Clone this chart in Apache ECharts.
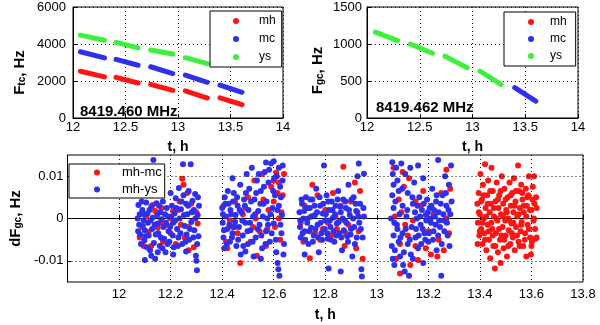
<!DOCTYPE html>
<html>
<head>
<meta charset="utf-8">
<script src="https://cdn.jsdelivr.net/npm/echarts@6/dist/echarts.min.js"></script>
<style>
  html, body { margin: 0; padding: 0; background: #fff; }
  #chart { width: 600px; height: 325px; }
</style>
</head>
<body>
<div id="chart"></div>
<script>
// top panels: each dash is [t start, t end, F start, F end] (t in h, F in Hz)
const tcMh = [[12.07, 12.30, 2530, 2220], [12.41, 12.62, 2200, 1890], [12.74, 12.95, 1815, 1490], [13.07, 13.28, 1470, 1080], [13.40, 13.61, 1090, 720]];
const tcMc = [[12.07, 12.30, 3580, 3250], [12.41, 12.62, 3170, 2850], [12.74, 12.95, 2770, 2400], [13.07, 13.28, 2320, 1930], [13.40, 13.61, 1780, 1390]];
const tcYs = [[12.07, 12.30, 4480, 4200], [12.41, 12.62, 4090, 3790], [12.74, 12.95, 3680, 3460], [13.07, 13.28, 3260, 2940]];

const gcYs = [[12.08, 12.29, 1160, 1045], [12.41, 12.62, 1000, 875], [12.74, 12.95, 835, 680], [13.07, 13.27, 635, 455]];
const gcMc = [[13.40, 13.60, 410, 228]];

const topTicksX = [12, 14, 0.5];
const tcTicksY = [0, 6000, 2000];
const gcTicksY = [0, 1500, 500];

// bottom panel: [t, dF in mHz]
const mhMc = [
  [12.08, -4.5], [12.09, -2.0], [12.105, 0.5], [12.115, -3.2], [12.125, -6.5], [12.14, 1.8], [12.15, -2.2], [12.165, 2.5],
  [12.17, -5.5], [12.185, -1.5], [12.2, -3.5], [12.21, 1.8], [12.22, -6.0], [12.235, 4.0], [12.245, 9.4], [12.25, 8.0],
  [12.255, -4.5], [12.265, 6.0], [12.27, -2.0], [12.28, 3.5], [12.29, -6.8], [12.3, 1.5], [12.305, -1.2], [12.24, -1.5], [12.13, 3.2],
  [12.405, 3.0], [12.415, -5.5], [12.43, -0.5], [12.45, 4.0], [12.46, -3.5], [12.47, -10.5], [12.48, 1.0], [12.5, 5.0],
  [12.51, -5.5], [12.525, 9.0], [12.53, 0.0], [12.545, -3.0], [12.555, 10.5], [12.56, 4.5], [12.57, -6.5], [12.58, 2.0],
  [12.59, 7.5], [12.6, 9.0], [12.605, -2.0], [12.61, 10.8], [12.615, 6.0], [12.62, 8.5], [12.625, -5.0], [12.63, 1.5],
  [12.64, 10.5], [12.535, -8.8], [12.42, -7.0],
  [12.705, -1.0], [12.72, 3.0], [12.74, -9.4], [12.745, 0.5], [12.76, -3.5], [12.77, 5.5], [12.78, -5.0], [12.8, 2.0],
  [12.82, -4.0], [12.83, 6.0], [12.845, -2.5], [12.86, 3.0], [12.87, 12.2], [12.875, -6.5], [12.89, -1.5], [12.9, 4.0],
  [12.915, 8.5], [12.92, -7.0], [12.93, -3.0], [12.935, 6.5], [12.945, -9.5], [12.81, -1.0], [12.75, 8.0],
  [13.065, 12.0], [13.07, 0.5], [13.075, -9.5], [13.085, 4.5], [13.09, -6.0], [13.1, 11.0], [13.105, 7.5], [13.11, -1.5],
  [13.12, -4.0], [13.125, 9.5], [13.13, -11.0], [13.14, -0.5], [13.15, -6.5], [13.16, -9.8], [13.17, 3.0], [13.18, 6.5],
  [13.2, -3.0], [13.21, -8.5], [13.22, 1.0], [13.235, -9.0], [13.25, 6.0], [13.26, -7.5], [13.27, 11.5], [13.28, -3.5],
  [13.285, 7.0], [13.09, -13.0],
  [13.39, 3.5], [13.392, -1.0], [13.395, 6.0], [13.398, -4.0], [13.40, 1.0], [13.402, 10.5], [13.405, -2.5], [13.408, 4.5],
  [13.41, -6.0], [13.412, 8.0], [13.415, 0.0], [13.418, -3.5], [13.42, 12.8], [13.422, 2.5], [13.425, -7.5], [13.428, 5.5],
  [13.43, -1.5], [13.432, 9.0], [13.435, -5.0], [13.438, 1.5], [13.44, -9.4], [13.442, 3.5], [13.445, 12.0], [13.448, -2.5],
  [13.45, 6.5], [13.452, -6.5], [13.455, 0.5], [13.458, -11.8], [13.46, 4.0], [13.462, -3.5], [13.465, 8.5], [13.468, -0.5],
  [13.47, -8.0], [13.472, 2.5], [13.475, 5.5], [13.478, -5.0], [13.48, -10.5], [13.482, 1.0], [13.485, 10.0], [13.488, -2.0],
  [13.49, 3.5], [13.492, -7.0], [13.495, 7.0], [13.498, -0.5], [13.50, -4.0], [13.502, 2.0], [13.505, -9.0], [13.508, 5.0],
  [13.51, 0.0], [13.512, -2.8], [13.515, 8.5], [13.518, -6.0], [13.52, 3.0], [13.522, -1.2], [13.525, 6.0], [13.528, -4.5],
  [13.53, 1.5], [13.532, 9.5], [13.535, -7.5], [13.538, 4.0], [13.54, -2.0], [13.545, 0.5], [13.548, 12.5], [13.55, -5.5],
  [13.552, 6.5], [13.555, 2.5], [13.558, -3.0], [13.56, 8.0], [13.562, -0.8], [13.565, 4.5], [13.568, -6.5], [13.57, 1.5],
  [13.575, -3.5], [13.578, 7.0], [13.58, -9.0], [13.582, 3.0], [13.585, -1.5], [13.588, 5.5], [13.59, 10.0], [13.595, -4.5],
  [13.598, -8.5], [13.60, 2.0], [13.602, -5.5], [13.605, 7.5], [13.608, -0.5], [13.61, 10.0], [13.612, 3.5], [13.615, -4.8],
  [13.618, 5.0], [13.62, -4.5]
];
const mhMcCore = [
  [12.095, -6.5], [12.16, -1.0], [12.2, 0.0], [12.23, 2.0], [12.27, -7.5],
  [12.44, -2.0], [12.49, 2.5], [12.52, -2.0], [12.575, -2.5], [12.6, 4.0], [12.62, 0.0], [12.635, 5.5],
  [12.715, -5.5], [12.79, -2.5], [12.84, 0.5], [12.88, -3.5], [12.925, 1.5],
  [13.095, 1.5], [13.15, 4.0], [13.19, -7.0], [13.24, -5.0], [13.27, 0.0],
  [13.391, -6.0], [13.396, 1.5], [13.40, -3.0], [13.404, 4.0], [13.41, -1.0], [13.414, 5.5], [13.42, -5.0], [13.424, 0.5],
  [13.43, 3.5], [13.434, -3.0], [13.44, 6.5], [13.444, -1.0], [13.45, -4.0], [13.454, 2.5], [13.46, -6.5], [13.464, 0.0],
  [13.47, 4.5], [13.474, -2.5], [13.48, 6.5], [13.484, -4.0], [13.49, 0.5], [13.494, -5.0], [13.50, 4.5], [13.504, 1.5],
  [13.51, -6.5], [13.514, -0.5], [13.52, 5.5], [13.524, -3.5], [13.53, -1.0], [13.534, 3.0], [13.54, 6.5], [13.544, -4.0],
  [13.55, 1.0], [13.554, -6.5], [13.56, -1.5], [13.564, 6.0], [13.57, 3.0], [13.574, -5.0], [13.58, 0.5], [13.584, 5.0],
  [13.59, -2.5], [13.594, 2.0], [13.60, -6.5], [13.604, 4.5], [13.61, 0.0], [13.614, -2.5], [13.62, 2.5]
];
const mhYs = [
  [12.075, 3.2], [12.08, 1.0], [12.078, -1.5], [12.082, -3.8], [12.085, -6.0], [12.09, 2.0], [12.095, -0.5], [12.10, -2.8],
  [12.098, -5.2], [12.105, 3.8], [12.11, 1.2], [12.112, -1.0], [12.115, -4.0], [12.12, -7.5], [12.125, 2.8], [12.13, 0.2],
  [12.128, -2.5], [12.135, -5.8], [12.14, -9.5], [12.133, 13.8], [12.145, 3.6], [12.15, -1.2], [12.152, -3.5], [12.158, -6.5],
  [12.16, 1.5], [12.165, -0.2], [12.17, 4.0], [12.172, -2.0], [12.175, -4.8], [12.18, -8.0], [12.185, 2.5], [12.19, 0.5],
  [12.192, -3.0], [12.195, -5.5], [12.2, 6.0], [12.205, 3.0], [12.21, -1.0], [12.212, -6.8], [12.215, 1.2], [12.22, 4.8],
  [12.225, -2.5], [12.23, -4.5], [12.232, 7.2], [12.235, 0.0], [12.24, 2.2], [12.245, -6.0], [12.248, 12.8], [12.25, 5.5],
  [12.255, -1.8], [12.26, 3.5], [12.262, -3.8], [12.265, 1.0], [12.27, 6.5], [12.272, -5.0], [12.278, 12.8], [12.28, -0.8],
  [12.285, 4.2], [12.29, 2.0], [12.292, -2.8], [12.295, 5.8], [12.298, -8.8], [12.30, -10.0], [12.302, -12.2], [12.305, 0.8],
  [12.31, 3.0], [12.308, -4.2], [12.125, -8.8], [12.10, -9.8],
  [12.40, 2.5], [12.402, -1.0], [12.405, -4.5], [12.408, -7.0], [12.41, 5.0], [12.415, 0.5], [12.42, -2.5], [12.425, 3.5],
  [12.43, -5.5], [12.435, 1.0], [12.44, -3.5], [12.445, 6.0], [12.45, -0.8], [12.455, -6.5], [12.46, 3.0], [12.465, -2.0],
  [12.47, 8.0], [12.472, -8.5], [12.475, 1.5], [12.48, -4.0], [12.485, 4.5], [12.49, -1.0], [12.495, 10.5], [12.5, -6.0],
  [12.502, 2.0], [12.505, 7.0], [12.51, -2.8], [12.515, 12.0], [12.52, 0.5], [12.522, -9.0], [12.525, 4.5], [12.53, -4.5],
  [12.535, 9.0], [12.54, 1.8], [12.545, -1.5], [12.55, 6.5], [12.555, -7.0], [12.56, 3.5], [12.565, 11.0], [12.57, -3.0],
  [12.575, 0.0], [12.58, 8.5], [12.585, -5.5], [12.59, 13.0], [12.595, 2.5], [12.6, -1.2], [12.605, 5.5], [12.61, -8.0],
  [12.612, 10.0], [12.615, -10.5], [12.618, -12.0], [12.62, 3.0], [12.622, -13.5], [12.625, 7.5], [12.63, -3.5], [12.632, 0.8],
  [12.635, 12.5], [12.64, -6.0], [12.55, -9.5], [12.49, -7.8], [12.57, 13.2], [12.44, 9.5],
  [12.70, 1.5], [12.702, -2.0], [12.705, -4.5], [12.71, 3.5], [12.715, 0.0], [12.72, -3.0], [12.725, 5.0], [12.73, -1.0],
  [12.735, -6.0], [12.74, 2.5], [12.745, -2.2], [12.75, 4.5], [12.755, -4.0], [12.76, 0.8], [12.765, 7.0], [12.77, -1.5],
  [12.775, -8.0], [12.78, 3.0], [12.785, -3.5], [12.79, 1.2], [12.795, 12.5], [12.8, -0.5], [12.805, 5.5], [12.81, -4.8],
  [12.813, -11.8], [12.815, 2.0], [12.82, -2.0], [12.825, 4.0], [12.83, 0.2], [12.835, -5.5], [12.84, 3.0], [12.845, -1.2],
  [12.85, 6.5], [12.855, -3.5], [12.86, 1.5], [12.865, -7.5], [12.87, 4.5], [12.875, -0.5], [12.88, 2.5], [12.885, -4.2],
  [12.89, 8.0], [12.895, 0.8], [12.9, -2.5], [12.905, -9.0], [12.91, 5.0], [12.915, -6.0], [12.92, 1.8], [12.925, 10.0],
  [12.93, 13.0], [12.932, -1.0], [12.935, 3.5], [12.94, -12.0], [12.942, -13.7], [12.945, -4.5], [12.95, 10.6], [12.95, 0.5],
  [12.72, -8.5], [12.86, -12.5],
  [13.06, 13.3], [13.062, 10.5], [13.065, 8.0], [13.06, 5.5], [13.065, 2.5], [13.068, -1.0], [13.065, -4.0], [13.07, -7.5],
  [13.068, -11.0], [13.075, 12.0], [13.08, 9.0], [13.085, 6.5], [13.08, -2.5], [13.085, -5.5], [13.09, -9.0], [13.095, 13.0],
  [13.1, 3.0], [13.1, -3.5], [13.105, -8.0], [13.108, -12.5], [13.11, 10.5], [13.115, 0.5], [13.12, -6.0], [13.12, 6.0],
  [13.125, -13.5], [13.13, 12.0], [13.135, -2.0], [13.14, -9.5], [13.14, 3.5], [13.145, 8.5], [13.15, -4.5], [13.155, 0.0],
  [13.16, 12.5], [13.16, -7.0], [13.165, 5.0], [13.17, -1.5], [13.175, 2.0], [13.18, -10.5], [13.18, 9.5], [13.185, -3.5],
  [13.19, 0.8], [13.195, 4.5], [13.2, -5.5], [13.205, 2.5], [13.21, -1.0], [13.215, 7.0], [13.22, -3.0], [13.225, 0.5],
  [13.23, 4.0], [13.232, -7.5], [13.238, 13.8], [13.24, 1.5], [13.245, -2.0], [13.25, -13.5], [13.255, 5.5], [13.26, -0.5],
  [13.265, 10.0], [13.27, 3.0], [13.275, -4.0], [13.28, 8.0], [13.285, 1.0], [13.288, 12.5]
];
const mhYsCore = [
  [12.072, 0.0], [12.074, -3.0], [12.088, 4.0], [12.092, -1.8], [12.096, 1.0], [12.102, -4.2], [12.108, -6.8], [12.118, 2.0],
  [12.122, -0.5], [12.138, -1.5], [12.142, -3.8], [12.148, 0.8], [12.155, 3.0], [12.162, -4.5], [12.168, -7.0], [12.178, 1.0],
  [12.182, -1.0], [12.188, -6.0], [12.198, -2.0], [12.202, 0.5], [12.208, -4.0], [12.218, -0.5], [12.222, 2.5], [12.228, -6.5],
  [12.238, -3.5], [12.242, 4.0], [12.252, 0.8], [12.258, -5.5], [12.268, 3.0], [12.275, -2.5], [12.282, 1.5], [12.288, -4.5],
  [12.296, 0.0], [12.303, -6.0], [12.306, 5.0], [12.15, -8.0], [12.21, -8.5], [12.26, -7.8],
  [12.403, 1.0], [12.407, -2.8], [12.412, 3.5], [12.418, -6.0], [12.422, 6.5], [12.428, -1.5], [12.432, 2.0], [12.438, -4.5],
  [12.442, 4.0], [12.448, -2.0], [12.452, 0.8], [12.458, 5.0], [12.462, -5.0], [12.468, 2.0], [12.478, -0.5], [12.482, -6.5],
  [12.488, 3.0], [12.492, 6.0], [12.498, -3.0], [12.508, -1.0], [12.512, 4.0], [12.518, -5.5], [12.528, 1.0], [12.532, 6.0],
  [12.538, -2.5], [12.542, 10.5], [12.548, 3.5], [12.552, -4.0], [12.558, 0.5], [12.562, 7.5], [12.568, -6.0], [12.572, 4.0],
  [12.578, -1.5], [12.582, 11.5], [12.588, 1.0], [12.592, -3.5], [12.598, 6.5], [12.602, 9.5], [12.608, -5.0], [12.614, 2.0],
  [12.62, 12.0], [12.626, -1.5], [12.628, 5.0], [12.634, 9.0], [12.638, -8.5], [12.60, 13.5],
  [12.703, -0.5], [12.708, 4.5], [12.712, -3.5], [12.718, 1.8], [12.722, -5.0], [12.728, 2.5], [12.732, 0.0], [12.738, -3.0],
  [12.742, 4.5], [12.748, 0.5], [12.752, -5.5], [12.758, 3.0], [12.762, -2.5], [12.768, 1.5], [12.772, -4.5], [12.778, 5.0],
  [12.782, -1.0], [12.788, -5.0], [12.792, 3.5], [12.798, -2.5], [12.802, 1.0], [12.808, -3.5], [12.812, 4.0], [12.818, -0.5],
  [12.822, -5.0], [12.828, 2.0], [12.832, -3.0], [12.838, 1.0], [12.842, -4.0], [12.848, 4.5], [12.852, -0.8], [12.858, 2.8],
  [12.862, -4.5], [12.868, 0.0], [12.872, -2.8], [12.878, 4.0], [12.882, -1.0], [12.888, -5.5], [12.892, 2.0], [12.898, -3.8],
  [12.902, 4.5], [12.908, 0.0], [12.912, -2.0], [12.918, 3.5], [12.922, -4.5], [12.928, 0.5], [12.938, -2.5], [12.948, 2.5],
  [13.055, 0.0], [13.058, -6.5], [13.062, -9.5], [13.072, 4.0], [13.078, -1.5], [13.088, 1.0], [13.092, -4.5], [13.098, 7.0],
  [13.102, -11.0], [13.112, -2.5], [13.118, 2.0], [13.128, -5.0], [13.132, -8.5], [13.138, 5.0], [13.148, 1.5], [13.152, -2.5],
  [13.158, 3.0], [13.162, -4.0], [13.168, 0.5], [13.172, -6.0], [13.178, -2.5], [13.182, 3.5], [13.188, -5.0], [13.192, -0.5],
  [13.198, 1.5], [13.202, -3.5], [13.208, 0.0], [13.212, 3.0], [13.218, -5.0], [13.222, 2.0], [13.228, -1.5], [13.232, 5.5],
  [13.238, -4.0], [13.242, -0.5], [13.248, 3.5], [13.252, -6.0], [13.258, 1.0], [13.262, -3.0], [13.268, 6.0], [13.272, -1.0],
  [13.278, 2.0], [13.282, -6.5], [13.29, 4.0]
];
const botTicksX = [11.8, 13.8, 0.2];
const botTicksY = [-0.01, 0, 0.01];

const RED = '#ff1414';
const BLUE = '#2f2ff0';
const GREEN = '#3cf03c';
const FONT = 'Liberation Sans';
const GRID_LINE = { color: '#111', type: [1, 3], width: 1 };

const dashSeries = (name, color, segs, gi) => segs.map(s => ({
  name, type: 'line', xAxisIndex: gi, yAxisIndex: gi, color,
  symbol: 'none', silent: true, z: 3,
  lineStyle: { width: 5, cap: 'round', color },
  data: [[s[0], s[2]], [s[1], s[3]]]
}));

const dotSeries = (name, color, pts) => ({
  name, type: 'scatter', xAxisIndex: 2, yAxisIndex: 2, color,
  symbolSize: 6, silent: true, z: 3,
  itemStyle: { opacity: 1 },
  data: pts.map(p => [p[0], p[1] / 1000])
});

const yName = (main, sub) => `{b|${main}}{s|${sub}}{b|, Hz}`;
const yNameStyle = {
  fontFamily: FONT, fontWeight: 'bold', color: '#000',
  rich: {
    b: { fontFamily: FONT, fontWeight: 'bold', fontSize: 15, lineHeight: 18, verticalAlign: 'bottom' },
    s: { fontFamily: FONT, fontWeight: 'bold', fontSize: 10, lineHeight: 8, verticalAlign: 'bottom' }
  }
};

const labelStyle = (margin) => ({
  color: '#000', fontFamily: FONT, fontSize: 13, margin, formatter: v => String(v)
});

const axisBase = (gi) => ({
  type: 'value', gridIndex: gi,
  axisLine: { lineStyle: { color: '#000', width: 1 } },
  axisTick: { inside: true, length: 4, lineStyle: { color: '#000' } },
  splitLine: { show: true, lineStyle: GRID_LINE }
});

const xName = { fontFamily: FONT, fontWeight: 'bold', fontSize: 14, color: '#000' };
const topX = (gi) => ({
  ...axisBase(gi), min: topTicksX[0], max: topTicksX[1], interval: topTicksX[2],
  name: 't, h', nameLocation: 'middle', nameGap: 22, nameTextStyle: xName,
  axisLabel: labelStyle(3)
});

const legendBase = {
  orient: 'vertical', icon: 'circle', itemWidth: 6, itemHeight: 6,
  backgroundColor: '#fff', borderColor: '#000', borderWidth: 1, borderRadius: 0,
  selectedMode: false, z: 10
};

const chart = echarts.init(document.getElementById('chart'));
chart.setOption({
  animation: false,
  backgroundColor: '#fff',
  grid: [
    { left: 73, top: 7, width: 210, height: 111, show: true, borderColor: '#000', borderWidth: 1 },
    { left: 367, top: 7, width: 211, height: 111, show: true, borderColor: '#000', borderWidth: 1 },
    { left: 63, top: 155, width: 520, height: 127, show: true, borderColor: '#000', borderWidth: 1 }
  ],
  xAxis: [
    topX(0),
    topX(1),
    {
      ...axisBase(2), min: botTicksX[0], max: botTicksX[1], interval: botTicksX[2],
      name: 't, h', nameLocation: 'middle', nameGap: 26, nameTextStyle: xName,
      axisLabel: {
        ...labelStyle(6),
        formatter: v => (Math.abs(v - botTicksX[0]) < 1e-6 ? '' : String(+v.toFixed(1)))
      }
    }
  ],
  yAxis: [
    {
      ...axisBase(0), min: tcTicksY[0], max: tcTicksY[1], interval: tcTicksY[2],
      name: yName('F', 'tc'), nameLocation: 'middle', nameGap: 46,
      nameTextStyle: { ...yNameStyle, padding: [0, 20, 0, 0] },
      axisLabel: labelStyle(7)
    },
    {
      ...axisBase(1), min: gcTicksY[0], max: gcTicksY[1], interval: gcTicksY[2],
      name: yName('F', 'gc'), nameLocation: 'middle', nameGap: 42,
      nameTextStyle: { ...yNameStyle, padding: [0, 16, 0, 0] },
      axisLabel: labelStyle(5)
    },
    {
      ...axisBase(2), min: -0.015, max: 0.015,
      name: yName('dF', 'gc'), nameLocation: 'middle', nameGap: 42, nameTextStyle: yNameStyle,
      splitLine: { show: false },
      axisTick: { inside: true, length: 4, lineStyle: { color: '#000' }, customValues: botTicksY },
      axisLabel: {
        ...labelStyle(4), customValues: botTicksY,
        formatter: v => (v === 0 ? '0' : v.toFixed(2))
      }
    }
  ],
  legend: [
    {
      ...legendBase, data: ['mh', 'mc', 'ys'], left: 210, top: 11, itemGap: 6,
      padding: [4, 6, 4, 23],
      textStyle: { fontFamily: FONT, fontSize: 12, color: '#000', padding: [0, 0, 0, 15] }
    },
    {
      ...legendBase, data: ['mh', 'mc', 'ys'], left: 504, top: 12, itemGap: 5,
      padding: [4, 9, 4, 24],
      textStyle: { fontFamily: FONT, fontSize: 12, color: '#000', padding: [0, 0, 0, 11] }
    },
    {
      ...legendBase, data: ['mh-mc', 'mh-ys'], left: 69, top: 164, itemGap: 4,
      padding: [2, 3, 2, 25],
      textStyle: { fontFamily: FONT, fontSize: 13, color: '#000', padding: [0, 0, 0, 17] }
    }
  ],
  graphic: [
    { type: 'text', left: 80, top: 104, z: 20, style: { text: '8419.460 MHz', font: `bold 15px "${FONT}"`, fill: '#000' } },
    { type: 'text', left: 376, top: 100, z: 20, style: { text: '8419.462 MHz', font: `bold 15px "${FONT}"`, fill: '#000' } }
  ],
  series: [
    ...dashSeries('mh', RED, tcMh, 0),
    ...dashSeries('mc', BLUE, tcMc, 0),
    ...dashSeries('ys', GREEN, tcYs, 0),
    { name: 'mh', type: 'line', xAxisIndex: 1, yAxisIndex: 1, color: RED, data: [] },
    ...dashSeries('mc', BLUE, gcMc, 1),
    ...dashSeries('ys', GREEN, gcYs, 1),
    {
      type: 'scatter', xAxisIndex: 2, yAxisIndex: 2, data: [], z: 1, silent: true,
      markLine: {
        silent: true, symbol: ['none', 'none'], label: { show: false },
        lineStyle: GRID_LINE,
        data: botTicksY.map(v => ({ yAxis: v }))
      }
    },
    dotSeries('mh-mc', RED, mhMc.concat(mhMcCore)),
    dotSeries('mh-ys', BLUE, mhYs.concat(mhYsCore))
  ]
});
</script>
</body>
</html>
